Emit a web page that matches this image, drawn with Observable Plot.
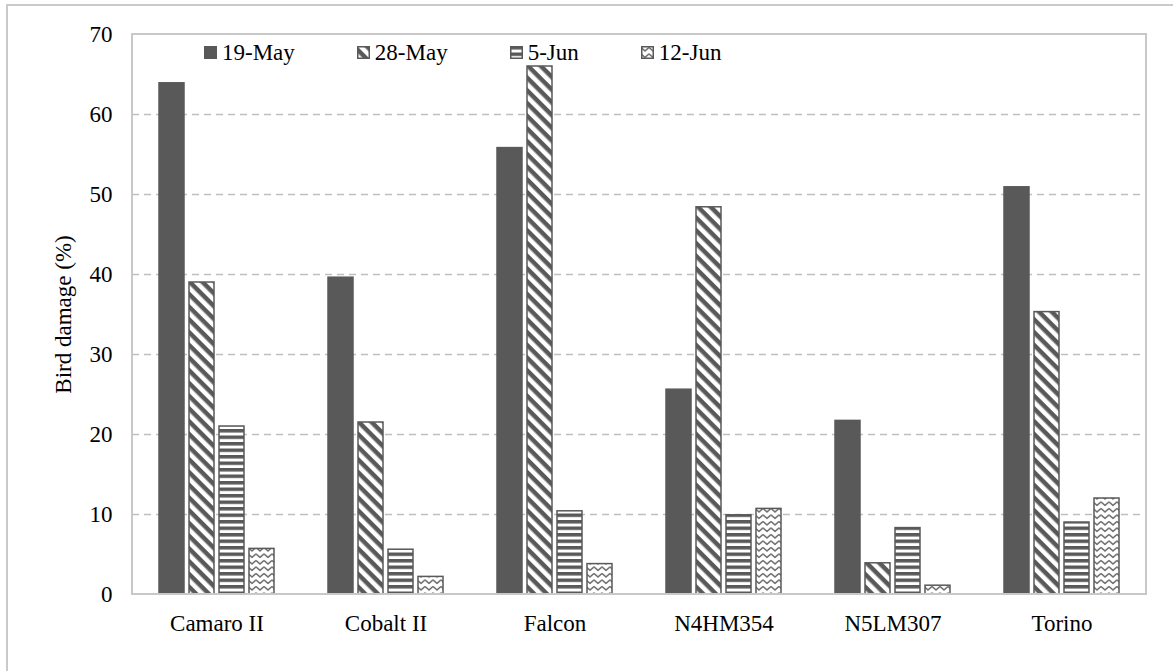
<!DOCTYPE html>
<html><head><meta charset="utf-8">
<script src="https://cdn.jsdelivr.net/npm/d3@7"></script>
<script src="https://cdn.jsdelivr.net/npm/@observablehq/plot@0.6"></script>
<style>
html,body{margin:0;padding:0;background:#fff;overflow:hidden;width:1173px;height:671px;}
#wrap{position:relative;width:1173px;height:671px;}
#outer{position:absolute;left:6px;top:4px;width:1220px;height:720px;border:2px solid #cacaca;box-sizing:border-box;}
#chart{position:absolute;left:0;top:0;}
#legend{position:absolute;left:204px;top:41px;display:flex;align-items:center;font-family:"Liberation Serif",serif;font-size:23px;color:#000;line-height:1;}
#legend .item{display:flex;align-items:center;margin-right:62px;}
#legend svg{margin-right:5px;}
</style>
</head><body>
<svg width="0" height="0" style="position:absolute">
<defs>
<pattern id="pDiag" patternUnits="userSpaceOnUse" width="9" height="9" patternTransform="rotate(45)">
<rect width="9" height="9" fill="#fff"/><rect width="9" height="4.5" fill="#595959"/>
</pattern>
<pattern id="pHoriz" patternUnits="userSpaceOnUse" width="10" height="6.5">
<rect width="10" height="6.5" fill="#fff"/><rect width="10" height="3.5" fill="#595959"/>
</pattern>
<pattern id="pZig" patternUnits="userSpaceOnUse" width="8" height="6.5">
<rect width="8" height="6.5" fill="#fff"/><path d="M0,1.5 L4,5 L8,1.5" fill="none" stroke="#595959" stroke-width="1.3"/>
</pattern>
</defs>
</svg>
<div id="wrap">
<div id="outer"></div>
<div id="chart"></div>
<div id="legend"></div>
</div>
<script>
const cultivars = ["Camaro II","Cobalt II","Falcon","N4HM354","N5LM307","Torino"];
const dates = ["19-May","28-May","5-Jun","12-Jun"];
const may19 = [63.9,39.6,55.8,25.6,21.7,50.9];
const may28 = [39.0,21.5,66.0,48.4,3.9,35.3];
const jun5  = [21.0,5.6,10.4,9.9,8.3,9.0];
const jun12 = [5.7,2.2,3.8,10.7,1.1,12.0];
const yTicks = [0,10,20,30,40,50,60,70];
const gridValues = [10,20,30,40,50,60];

const series = [may19, may28, jun5, jun12];
const fills = ["#595959","url(#pDiag)","url(#pHoriz)","url(#pZig)"];
const rows = cultivars.flatMap((c,i)=>dates.map((d,j)=>({cultivar:c,date:d,value:series[j][i]})));
const serif = '"Liberation Serif", "Times New Roman", serif';

const chart = Plot.plot({
  width:1173, height:671,
  marginLeft:132, marginRight:27, marginTop:34, marginBottom:77,
  style:{background:"transparent", color:"#000"},
  fx:{domain:cultivars, padding:0, label:null, axis:null},
  x:{domain:dates, paddingInner:0.17, paddingOuter:0.82, axis:null},
  y:{domain:[0,70], axis:null},
  color:{domain:dates, range:fills},
  marks:[
    Plot.ruleY(gridValues,{stroke:"#bfbfbf", strokeWidth:1.5, strokeDasharray:"7,5"}),
    Plot.barY(rows,{fx:"cultivar", x:"date", y:"value", fill:"date", stroke:"#595959", strokeWidth:1.5}),
    Plot.axisFx({anchor:"bottom", tickSize:0, tickPadding:20, label:null,
      fontFamily:serif, fontSize:23, fill:"#000"}),
    Plot.axisY({anchor:"left", ticks:yTicks, tickFormat:d=>String(d), tickSize:0, tickPadding:20,
      label:"Bird damage (%)", labelAnchor:"center", labelArrow:"none", labelOffset:78,
      fontFamily:serif, fontSize:23, fill:"#000"})
  ]
});
d3.select(chart).selectAll("text").attr("font-family", serif).style("font-family", serif)
  .attr("font-size", 23).style("font-size","23px").attr("fill","#000");
document.getElementById("chart").appendChild(chart);

// plot-area frame from the library's scales
const fxs = chart.scale("fx"), ys = chart.scale("y");
const x0 = Math.min(...fxs.range), x1 = Math.max(...fxs.range);
const y0 = Math.min(...ys.range), y1 = Math.max(...ys.range);
d3.select(chart).append("rect")
  .attr("x", x0).attr("y", y0).attr("width", x1-x0).attr("height", y1-y0)
  .attr("fill","none").attr("stroke","#c8c8c8").attr("stroke-width",2);

// legend
const leg = d3.select("#legend");
dates.forEach((d,i)=>{
  const it = leg.append("div").attr("class","item");
  const s = it.append("svg").attr("width",13).attr("height",13);
  s.append("rect").attr("x",0.75).attr("y",0.75).attr("width",11.5).attr("height",11.5)
   .attr("fill",fills[i]).attr("stroke","#595959").attr("stroke-width",1.5);
  it.append("span").text(d);
});
</script>
</body></html>
